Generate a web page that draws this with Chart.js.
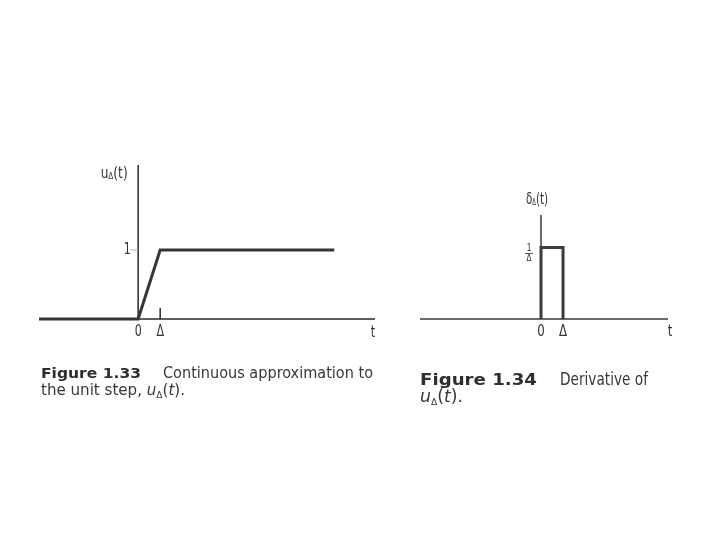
<!DOCTYPE html>
<html>
<head>
<meta charset="utf-8">
<script src="https://cdn.jsdelivr.net/npm/chart.js@4.4.1/dist/chart.umd.min.js"></script>
<style>
  html, body { margin: 0; padding: 0; background: #fff; }
  #wrap { position: relative; width: 720px; height: 540px; overflow: hidden; background: #fff; }
  #wrap canvas { position: absolute; top: 0; }
</style>
</head>
<body>
<div id="wrap">
  <canvas id="stepChart" width="400" height="540" style="left:0"></canvas>
  <canvas id="pulseChart" width="320" height="540" style="left:400px"></canvas>
</div>
<script>
// Figure 1.33: continuous approximation to the unit step (t measured in units of Delta)
const stepT = [-4.5, 0, 1, 8.9];
const stepU = [0, 0, 1, 1];
const stepTicksX = [0, 1];
const stepTickLabelsX = ['0', 'Δ'];
const stepTicksY = [1];
const stepTickLabelsY = ['1'];

// Figure 1.34: derivative of the step, a pulse of height 1/Delta
const pulseT = [0, 0, 1, 1];
const pulseD = [0, 1, 1, 0];
const pulseTicksX = [0, 1];
const pulseTickLabelsX = ['0', 'Δ'];

const NARROW = '"Liberation Sans Narrow", "DejaVu Sans Condensed", "Arial Narrow", sans-serif';
const BOLD = '"DejaVu Sans", "Open Sans", sans-serif';
const SQUEEZE = 0.82;

// draw text pieces one after another; fit = target width, or a plain x-scale factor if < 5
function drawRuns(ctx, runs, x, y, align, fit) {
  let total = 0;
  runs.forEach(r => { ctx.font = r.font; r.w = ctx.measureText(r.text).width; total += r.w; });
  const k = !fit ? 1 : (fit < 5 ? fit : fit / total);
  ctx.save();
  ctx.translate(align === 'center' ? x - total * k / 2 : x, y);
  ctx.scale(k, 1);
  ctx.textAlign = 'left';
  let cx = 0;
  runs.forEach(r => {
    ctx.font = r.font;
    ctx.fillText(r.text, cx, r.dy || 0);
    cx += r.w;
  });
  ctx.restore();
}

function label(ctx, text, x, y, size) {
  drawRuns(ctx, [{ text, font: size + 'px ' + NARROW }], x, y, 'center', SQUEEZE);
}

function baseOptions(pad, xr, yr) {
  return {
    responsive: false,
    animation: false,
    events: [],
    layout: { padding: pad },
    plugins: { legend: { display: false }, tooltip: { enabled: false } },
    scales: {
      x: { type: 'linear', min: xr[0], max: xr[1], display: false },
      y: { type: 'linear', min: yr[0], max: yr[1], display: false }
    }
  };
}

const stepAxes = {
  id: 'stepAxes',
  beforeDatasetsDraw(chart) {
    const { ctx, chartArea: a, scales: { x, y } } = chart;
    const x0 = x.getPixelForValue(0), y0 = y.getPixelForValue(0);
    ctx.save();
    ctx.strokeStyle = '#2a2a2a';
    ctx.lineWidth = 1.5;
    ctx.beginPath();
    ctx.moveTo(a.left, y0); ctx.lineTo(a.right, y0);
    ctx.moveTo(x0, a.top); ctx.lineTo(x0, y0);
    stepTicksX.forEach(v => {
      if (v === 0) return;
      const px = x.getPixelForValue(v);
      ctx.moveTo(px, y0); ctx.lineTo(px, y0 - 11);
    });
    ctx.stroke();
    ctx.strokeStyle = '#b5b5b5';
    ctx.lineWidth = 1;
    ctx.beginPath();
    stepTicksY.forEach(v => {
      const py = y.getPixelForValue(v);
      ctx.moveTo(x0 - 8, py); ctx.lineTo(x0, py);
    });
    ctx.stroke();
    ctx.restore();
  },
  afterDraw(chart) {
    const { ctx, chartArea: a, scales: { x, y } } = chart;
    const x0 = x.getPixelForValue(0), y0 = y.getPixelForValue(0);
    ctx.save();
    ctx.fillStyle = '#333';
    ctx.textBaseline = 'middle';
    stepTicksX.forEach((v, i) => label(ctx, stepTickLabelsX[i], x.getPixelForValue(v), y0 + 13, 15));
    stepTicksY.forEach((v, i) => label(ctx, stepTickLabelsY[i], x0 - 11, y.getPixelForValue(v), 15));
    label(ctx, 't', a.right - 2, y0 + 14, 15);
    drawRuns(ctx, [
      { text: 'u', font: '15px ' + NARROW },
      { text: 'Δ', font: '9px ' + NARROW, dy: 3 },
      { text: '(t)', font: '15px ' + NARROW }
    ], x0 - 24, a.top + 9, 'center', 27);

    // caption
    ctx.textBaseline = 'alphabetic';
    ctx.fillStyle = '#2e2e2e';
    drawRuns(ctx, [{ text: 'Figure 1.33', font: 'bold 14px ' + BOLD }], 41, 378, 'left', 100);
    ctx.fillStyle = '#383838';
    drawRuns(ctx, [{ text: 'Continuous approximation to', font: '15px ' + NARROW }], 163, 378, 'left', 210);
    drawRuns(ctx, [
      { text: 'the unit step, ', font: '15px ' + NARROW },
      { text: 'u', font: 'italic 15px ' + NARROW },
      { text: 'Δ', font: '9px ' + NARROW, dy: 3 },
      { text: '(', font: '15px ' + NARROW },
      { text: 't', font: 'italic 15px ' + NARROW },
      { text: ').', font: '15px ' + NARROW }
    ], 41, 395, 'left', 144);
    ctx.restore();
  }
};

const pulseAxes = {
  id: 'pulseAxes',
  beforeDatasetsDraw(chart) {
    const { ctx, chartArea: a, scales: { x, y } } = chart;
    const x0 = x.getPixelForValue(0), y0 = y.getPixelForValue(0);
    ctx.save();
    ctx.strokeStyle = '#3a3a3a';
    ctx.lineWidth = 1.5;
    ctx.beginPath();
    ctx.moveTo(a.left, y0); ctx.lineTo(a.right, y0);
    ctx.moveTo(x0, a.top); ctx.lineTo(x0, y0);
    ctx.stroke();
    ctx.restore();
  },
  afterDraw(chart) {
    const { ctx, chartArea: a, scales: { x, y } } = chart;
    const x0 = x.getPixelForValue(0), y0 = y.getPixelForValue(0);
    const y1 = y.getPixelForValue(1);
    ctx.save();
    ctx.fillStyle = '#333';
    ctx.textBaseline = 'middle';
    pulseTicksX.forEach((v, i) => label(ctx, pulseTickLabelsX[i], x.getPixelForValue(v), y0 + 13, 16));
    label(ctx, 't', a.right + 2, y0 + 13, 16);
    drawRuns(ctx, [
      { text: 'δ', font: '16px ' + NARROW },
      { text: 'Δ', font: '8px ' + NARROW, dy: 3 },
      { text: '(t)', font: '16px ' + NARROW }
    ], x0 - 4, a.top - 15, 'center', 22);
    // 1/Delta fraction
    label(ctx, '1', x0 - 12, y1 + 1, 10);
    label(ctx, 'Δ', x0 - 12, y1 + 11, 10);
    ctx.strokeStyle = '#555';
    ctx.lineWidth = 1;
    ctx.beginPath();
    ctx.moveTo(x0 - 16, y1 + 6); ctx.lineTo(x0 - 8, y1 + 6);
    ctx.stroke();

    // caption
    ctx.textBaseline = 'alphabetic';
    ctx.fillStyle = '#2e2e2e';
    drawRuns(ctx, [{ text: 'Figure 1.34', font: 'bold 16px ' + BOLD }], 20, 385, 'left', 117);
    ctx.fillStyle = '#383838';
    drawRuns(ctx, [{ text: 'Derivative of', font: '17px ' + NARROW }], 160, 385, 'left', 88);
    drawRuns(ctx, [
      { text: 'u', font: 'italic 17px ' + NARROW },
      { text: 'Δ', font: '9px ' + NARROW, dy: 3 },
      { text: '(', font: '17px ' + NARROW },
      { text: 't', font: 'italic 17px ' + NARROW },
      { text: ').', font: '17px ' + NARROW }
    ], 20, 402, 'left', 43);
    ctx.restore();
  }
};

new Chart(document.getElementById('stepChart'), {
  type: 'scatter',
  data: {
    datasets: [{
      data: stepT.map((t, i) => ({ x: t, y: stepU[i] })),
      showLine: true,
      borderColor: '#363636',
      borderWidth: 3,
      pointRadius: 0,
      clip: false
    }]
  },
  options: baseOptions({ left: 39, right: 25, top: 165, bottom: 221 }, [-4.5, 10.75], [0, 2.23]),
  plugins: [stepAxes]
});

new Chart(document.getElementById('pulseChart'), {
  type: 'scatter',
  data: {
    datasets: [{
      data: pulseT.map((t, i) => ({ x: t, y: pulseD[i] })),
      showLine: true,
      borderColor: '#3c3c3c',
      borderWidth: 3,
      pointRadius: 0,
      clip: false
    }]
  },
  options: baseOptions({ left: 20, right: 52, top: 215, bottom: 221 }, [-5.5, 5.77], [0, 1.455]),
  plugins: [pulseAxes]
});
</script>
</body>
</html>
